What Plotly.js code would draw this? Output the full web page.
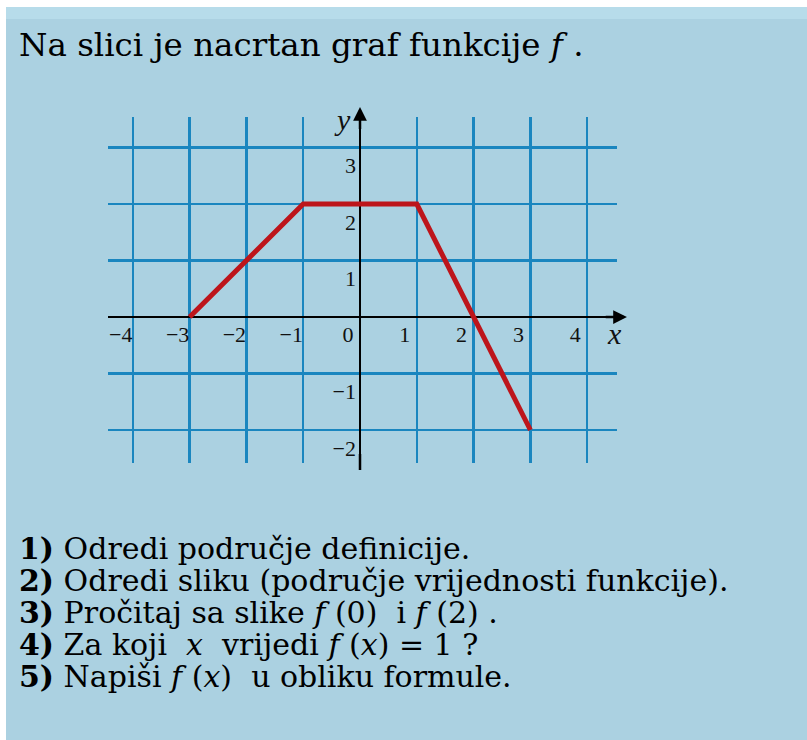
<!DOCTYPE html>
<html lang="hr">
<head>
    <meta charset="UTF-8">
    <title>Graf funkcije f</title>
    <script src="https://cdn.plot.ly/plotly-3.0.1.min.js"></script>
    <style>
        body {
            margin: 0;
            background: #ffffff;
        }
        #graf {
            position: absolute;
            left: 6px;
            top: 7px;
            width: 801px;
            height: 733px;
        }
    </style>
</head>
<body>
    <div id="graf"></div>

    <script>
        // Vrhovi izlomljene linije grafa
        const pointsX = [-3, -1, 1, 3];
        const pointsY = [0, 2, 2, -2];

        // Oznake na osima
        const xTicks = [-4, -3, -2, -1, 0, 1, 2, 3, 4];
        const yTicks = [-2, -1, 1, 2, 3];

        const naslov = 'Na slici je nacrtan graf funkcije <i>f</i> .';
        const pitanja = [
            '<b>1)</b> Odredi područje definicije.',
            '<b>2)</b> Odredi sliku (područje vrijednosti funkcije).',
            '<b>3)</b> Pročitaj sa slike <i>f</i> (0)  i <i>f</i> (2) .',
            '<b>4)</b> Za koji  <i>x</i>  vrijedi <i>f</i> (<i>x</i>) = 1 ?',
            '<b>5)</b> Napiši <i>f</i> (<i>x</i>)  u obliku formule.'
        ];

        // okvir crteza u pikselima stranice
        const plotLeft = 108, plotRight = 617, plotTop = 117, plotBottom = 463;
        const xRange = [-4.437, 4.525];
        const yRange = [-2.584, 3.54];

        function paperX(px) { return (px - plotLeft) / (plotRight - plotLeft); }
        function paperY(py) { return (plotBottom - py) / (plotBottom - plotTop); }

        const times = "'Liberation Serif', serif";
        const wide = "'DejaVu Serif', serif";
        const gridBlue = '#1a86bf';

        const trace = {
            x: pointsX,
            y: pointsY,
            type: 'scatter',
            mode: 'lines',
            line: { color: '#bd151b', width: 5 },
            hoverinfo: 'skip'
        };

        const annotations = [];

        annotations.push({
            xref: 'paper', yref: 'paper',
            x: paperX(17), y: paperY(45),
            xanchor: 'left', yanchor: 'middle',
            text: naslov, showarrow: false,
            font: { family: wide, size: 32.5, color: '#000' }
        });

        // pitanja, razmak redova 32 px
        pitanja.forEach(function (t, i) {
            annotations.push({
                xref: 'paper', yref: 'paper',
                x: paperX(17), y: paperY(548 + 32 * i),
                xanchor: 'left', yanchor: 'middle',
                text: t, showarrow: false,
                font: { family: wide, size: 30, color: '#000' }
            });
        });

        // strelice osi
        annotations.push({
            x: 4.70, y: 0, ax: 4.3, ay: 0,
            xref: 'x', yref: 'y', axref: 'x', ayref: 'y',
            text: '', showarrow: true,
            arrowhead: 2, arrowsize: 1.1, arrowwidth: 2.5, arrowcolor: '#000'
        });
        annotations.push({
            x: 0, y: 3.717, ax: 0, ay: 3.3,
            xref: 'x', yref: 'y', axref: 'x', ayref: 'y',
            text: '', showarrow: true,
            arrowhead: 2, arrowsize: 1.1, arrowwidth: 2.5, arrowcolor: '#000'
        });
        annotations.push({
            x: 0, y: -2.708, ax: 0, ay: -2.4,
            xref: 'x', yref: 'y', axref: 'x', ayref: 'y',
            text: '', showarrow: true,
            arrowhead: 0, arrowwidth: 2.5, arrowcolor: '#000'
        });

        // nazivi osi
        annotations.push({
            xref: 'paper', yref: 'paper',
            x: paperX(614), y: paperY(333),
            xanchor: 'center', yanchor: 'middle',
            text: '<i>x</i>', showarrow: false,
            font: { family: times, size: 30, color: '#111' }
        });
        annotations.push({
            xref: 'paper', yref: 'paper',
            x: paperX(342), y: paperY(120),
            xanchor: 'center', yanchor: 'middle',
            text: '<i>y</i>', showarrow: false,
            font: { family: times, size: 30, color: '#111' }
        });

        const layout = {
            width: 801,
            height: 733,
            margin: { l: plotLeft - 6, r: 807 - plotRight, t: plotTop - 7, b: 740 - plotBottom, pad: 0 },
            paper_bgcolor: '#abd1e1',
            plot_bgcolor: 'rgba(0,0,0,0)',
            showlegend: false,
            xaxis: {
                range: xRange,
                tickvals: xTicks,
                showgrid: true, gridcolor: gridBlue, gridwidth: 2.5,
                zeroline: true, zerolinecolor: '#000', zerolinewidth: 2.5,
                showline: false, ticks: '',
                anchor: 'free',
                position: (0 - yRange[0]) / (yRange[1] - yRange[0]),
                ticklabelshift: -12,
                ticklabelstandoff: 2,
                tickfont: { family: times, size: 22, color: '#111' },
                fixedrange: true
            },
            yaxis: {
                range: yRange,
                tickvals: yTicks,
                showgrid: true, gridcolor: gridBlue, gridwidth: 2.5,
                zeroline: true, zerolinecolor: '#000', zerolinewidth: 2.5,
                showline: false, ticks: '',
                anchor: 'free',
                position: (0 - xRange[0]) / (xRange[1] - xRange[0]),
                ticklabelshift: 18,
                ticklabelstandoff: 4,
                tickfont: { family: times, size: 22, color: '#111' },
                fixedrange: true
            },
            shapes: [
                {
                    type: 'rect', xref: 'paper', yref: 'paper', layer: 'below',
                    x0: paperX(6), x1: paperX(807), y0: paperY(7), y1: paperY(19),
                    fillcolor: '#b7dcea', line: { width: 0 }
                }
            ],
            annotations: annotations
        };

        Plotly.newPlot('graf', [trace], layout, { displayModeBar: false, staticPlot: true });
    </script>
</body>
</html>
